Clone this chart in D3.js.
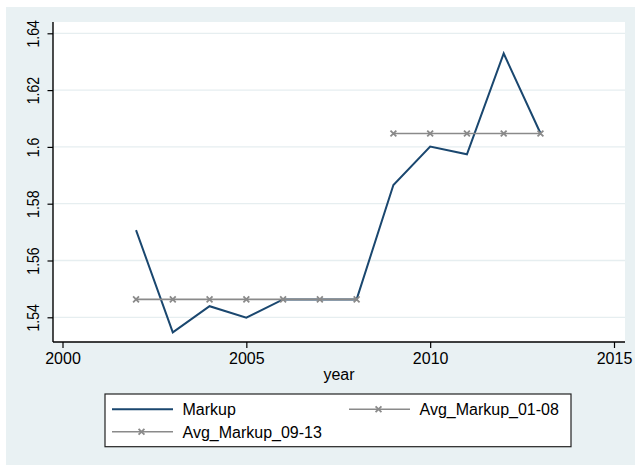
<!DOCTYPE html>
<html><head><meta charset="utf-8">
<script src="https://cdn.jsdelivr.net/npm/d3@7"></script>
<style>
html,body{margin:0;padding:0;background:#fff;}
text{font-family:"Liberation Sans",Arial,sans-serif;fill:#000;}
</style></head>
<body><svg id="c" width="635" height="466"></svg>
<script>
const years = [2002,2003,2004,2005,2006,2007,2008,2009,2010,2011,2012,2013];
const markup = [1.5707,1.5347,1.5439,1.5399,1.5463,1.5463,1.5463,1.5866,1.6001,1.5974,1.6329,1.6048];
const avgYears0108 = [2002,2003,2004,2005,2006,2007,2008];
const avg0108 = [1.5463,1.5463,1.5463,1.5463,1.5463,1.5463,1.5463];
const avgYears0913 = [2009,2010,2011,2012,2013];
const avg0913 = [1.6047,1.6047,1.6047,1.6047,1.6047];
const yTicks = [1.54,1.56,1.58,1.6,1.62,1.64];
const yTickLabels = ["1.54","1.56","1.58","1.6","1.62","1.64"];
const xTicks = [2000,2005,2010,2015];
const seriesNames = ["Markup","Avg_Markup_01-08","Avg_Markup_09-13"];

const svg = d3.select("#c");
const bg = "#e9f1f3";
const navy = "#1a476f";
const gray = "#8a8a8a";
const fs = "16px";

svg.append("rect").attr("x",6).attr("y",7).attr("width",629).attr("height",458).attr("fill",bg);

const pl = {x0:53, x1:625, y0:22, y1:342};
svg.append("rect").attr("x",pl.x0).attr("y",pl.y0).attr("width",pl.x1-pl.x0).attr("height",pl.y1-pl.y0).attr("fill","#fff");

const x = d3.scaleLinear().domain([2000,2015]).range([62.5,614]);
const y = d3.scaleLinear().domain([1.54,1.64]).range([317.3,33.3]);

// grid
svg.append("g").selectAll("line").data(yTicks).join("line")
  .attr("x1",pl.x0).attr("x2",pl.x1).attr("y1",d=>y(d)).attr("y2",d=>y(d))
  .attr("stroke","#e6eef0").attr("stroke-width",1.3);

// y axis
const ya = svg.append("g").attr("transform",`translate(${pl.x0},0)`)
  .call(d3.axisLeft(y).tickValues(yTicks).tickSize(5.5).tickFormat((d,i)=>yTickLabels[i]));
ya.select(".domain").remove();
ya.selectAll(".tick line").attr("stroke","#000").attr("stroke-width",1.2);
ya.selectAll(".tick text").remove();
ya.selectAll(".tick").append("text")
  .attr("transform","translate(-14.5,0) rotate(-90) scale(0.88,1)")
  .attr("text-anchor","middle").attr("font-size",fs).attr("fill","#000")
  .text((d,i)=>yTickLabels[i]);
svg.append("line").attr("x1",pl.x0).attr("x2",pl.x0).attr("y1",pl.y0).attr("y2",pl.y1).attr("stroke","#000").attr("stroke-width",1.4);

// x axis
const xa = svg.append("g").attr("transform",`translate(0,${pl.y1})`)
  .call(d3.axisBottom(x).tickValues(xTicks).tickSize(6).tickFormat(d3.format("d")));
xa.select(".domain").remove();
xa.selectAll(".tick line").attr("stroke","#000").attr("stroke-width",1.2);
xa.selectAll(".tick text").attr("font-size",fs).attr("font-family","Liberation Sans, Arial, sans-serif").attr("fill","#000").attr("dy",null).attr("y",22);
svg.append("line").attr("x1",pl.x0).attr("x2",pl.x1).attr("y1",pl.y1).attr("y2",pl.y1).attr("stroke","#000").attr("stroke-width",1.4);

svg.append("text").attr("x",(pl.x0+pl.x1)/2).attr("y",380).attr("text-anchor","middle").attr("font-size",fs).text("year");

const line = d3.line().x(d=>x(d[0])).y(d=>y(d[1]));
const mk = d3.zip(years, markup);
const a1 = d3.zip(avgYears0108, avg0108);
const a2 = d3.zip(avgYears0913, avg0913);

svg.append("path").attr("d",line(mk)).attr("fill","none").attr("stroke",navy).attr("stroke-width",2).attr("stroke-linejoin","miter");

const sym = d3.symbol().type(d3.symbolTimes).size(24);
function avgSeries(data){
  svg.append("path").attr("d",line(data)).attr("fill","none").attr("stroke",gray).attr("stroke-width",1.6);
  svg.append("g").selectAll("path").data(data).join("path")
    .attr("transform",d=>`translate(${x(d[0])},${y(d[1])})`)
    .attr("d",sym).attr("fill","none").attr("stroke",gray).attr("stroke-width",1.8);
}
avgSeries(a1);
avgSeries(a2);

// legend
svg.append("rect").attr("x",105).attr("y",394).attr("width",466).attr("height",52.7)
  .attr("fill","#fff").attr("stroke","#222").attr("stroke-width",1.2);
const legItems = [
  {name:seriesNames[0], x:112, y:409.3, color:navy, w:2, marker:false},
  {name:seriesNames[1], x:349, y:409.3, color:gray, w:1.6, marker:true},
  {name:seriesNames[2], x:112, y:431.7, color:gray, w:1.6, marker:true}
];
legItems.forEach(it=>{
  svg.append("line").attr("x1",it.x).attr("x2",it.x+61).attr("y1",it.y).attr("y2",it.y)
    .attr("stroke",it.color).attr("stroke-width",it.w);
  if(it.marker){
    svg.append("path").attr("transform",`translate(${it.x+29.5},${it.y})`).attr("d",sym)
      .attr("fill","none").attr("stroke",gray).attr("stroke-width",1.8);
  }
  svg.append("text").attr("x",it.x+70.5).attr("y",it.y+6).attr("font-size",fs).text(it.name);
});
</script></body></html>
